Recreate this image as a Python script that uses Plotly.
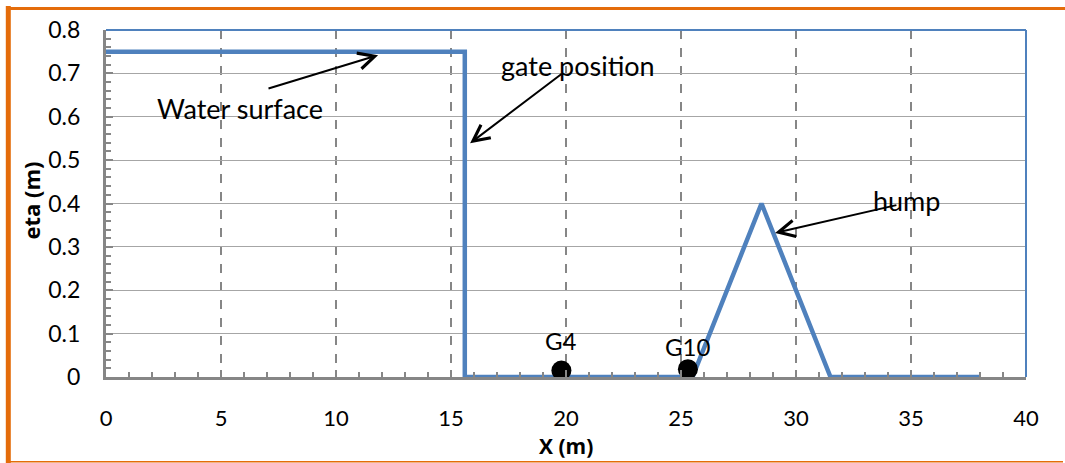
import plotly.graph_objects as go

# Free-surface profile along the flume (dam-break initial state over a hump)
x_profile = [0, 15.6, 15.6, 25.5, 28.5, 31.5, 38.0]
eta_profile = [0.75, 0.75, 0.0, 0.0, 0.4, 0.0, 0.0]

# Wave gauges
gauge_names = ["G4", "G10"]
gauge_x = [19.8, 25.3]
gauge_y = [0.015, 0.018]
gauge_label_y = [0.085, 0.071]

x_ticks = [0, 5, 10, 15, 20, 25, 30, 35, 40]
y_ticks = [0, 0.1, 0.2, 0.3, 0.4, 0.5, 0.6, 0.7, 0.8]

FONT = "Lato"
TITLE_FONT = "Open Sans"
BLUE = "#4F81BD"
ORANGE = "#E46C0A"
AXIS_GREY = "#868686"

W, H = 1065, 463
ML, MR, MT, MB = 106, 39, 30, 86
PW, PH = W - ML - MR, H - MT - MB


def px(xp):
    return (xp - ML) / PW


def py(yp):
    return (H - MB - yp) / PH


fig = go.Figure()

fig.add_trace(go.Scatter(
    x=x_profile, y=eta_profile, mode="lines",
    line=dict(color=BLUE, width=4.5),
    hoverinfo="skip", showlegend=False,
))

fig.add_trace(go.Scatter(
    x=gauge_x, y=gauge_y, mode="markers",
    marker=dict(color="black", size=20),
    hoverinfo="skip", showlegend=False,
))

annotations = []
for name, gx, ly in zip(gauge_names, gauge_x, gauge_label_y):
    annotations.append(dict(x=gx, y=ly, text=name, showarrow=False,
                            font=dict(family=FONT, size=24, color="black")))

# Callout labels
annotations += [
    dict(x=5.83, y=0.62, text="Water surface", showarrow=False,
         font=dict(family=FONT, size=27, color="black")),
    dict(x=20.5, y=0.719, text="gate position", showarrow=False,
         font=dict(family=FONT, size=27, color="black")),
    dict(x=34.8, y=0.406, text="hump", showarrow=False,
         font=dict(family=FONT, size=27, color="black")),
]

# Callout arrows (head at x/y, tail at ax/ay in data units)
arrows = [
    ((11.83, 0.742), (7.0, 0.664)),
    ((15.83, 0.539), (19.87, 0.701)),
    ((29.09, 0.332), (34.43, 0.397)),
]
for (hx, hy), (tx, ty) in arrows:
    annotations.append(dict(
        x=hx, y=hy, ax=tx, ay=ty, axref="x", ayref="y", xref="x", yref="y",
        text="", showarrow=True, arrowhead=5, arrowsize=1.6, arrowwidth=2,
        arrowcolor="black", standoff=0,
    ))

# Axis titles
annotations += [
    dict(x=0, y=0.5, xref="paper", yref="paper", xshift=-76, yshift=3,
         xanchor="center", yanchor="middle", text="<b>eta (m)</b>",
         textangle=-90, showarrow=False, font=dict(family=TITLE_FONT, size=22, color="black")),
    dict(x=0.5, y=0, xref="paper", yref="paper", yshift=-69,
         xanchor="center", yanchor="middle", text="<b>X (m)</b>", borderpad=0,
         showarrow=False, font=dict(family=TITLE_FONT, size=21, color="black")),
]

shapes = [
    # plot-area border on top and right
    dict(type="line", xref="paper", yref="paper", x0=0, x1=1, y0=1, y1=1,
         line=dict(color=BLUE, width=2)),
    dict(type="line", xref="paper", yref="paper", x0=1, x1=1, y0=0, y1=1,
         line=dict(color=BLUE, width=2)),
    # outer orange frame
    dict(type="line", xref="paper", yref="paper", x0=px(8.3), x1=px(8.3), y0=py(6), y1=py(463),
         line=dict(color=ORANGE, width=5)),
    dict(type="line", xref="paper", yref="paper", x0=px(6), x1=px(1065), y0=py(8.5), y1=py(8.5),
         line=dict(color=ORANGE, width=3)),
    dict(type="line", xref="paper", yref="paper", x0=px(6), x1=px(1063), y0=py(461.7), y1=py(461.7),
         line=dict(color=ORANGE, width=1.5)),
]

fig.update_layout(
    width=W, height=H,
    margin=dict(l=ML, r=MR, t=MT, b=MB),
    paper_bgcolor="white", plot_bgcolor="white",
    font=dict(family=FONT, size=23, color="black"),
    annotations=annotations, shapes=shapes,
    xaxis=dict(
        range=[0, 40], tickvals=x_ticks, ticktext=[str(v) for v in x_ticks],
        showline=True, linecolor=AXIS_GREY, linewidth=3,
        ticks="inside", ticklen=7, tickwidth=2, tickcolor=AXIS_GREY,
        minor=dict(dtick=1, ticks="inside", ticklen=5, tickwidth=2, tickcolor=AXIS_GREY, showgrid=False),
        showgrid=True, gridcolor=AXIS_GREY, gridwidth=1.5, griddash="dash",
        zeroline=False, ticklabelstandoff=20,
        tickfont=dict(family=FONT, size=22),
    ),
    yaxis=dict(
        range=[0, 0.8], tickvals=y_ticks, ticktext=["0"] + [f"{v:.1f}" for v in y_ticks[1:]],
        showline=True, linecolor=AXIS_GREY, linewidth=3,
        ticks="inside", ticklen=7, tickwidth=2, tickcolor=AXIS_GREY,
        minor=dict(dtick=0.02, ticks="inside", ticklen=5, tickwidth=2, tickcolor=AXIS_GREY, showgrid=False),
        showgrid=True, gridcolor="#A6A6A6", gridwidth=1,
        zeroline=False, ticklabelstandoff=18,
        tickfont=dict(family=FONT, size=23),
    ),
)

fig.write_html("out.html")
